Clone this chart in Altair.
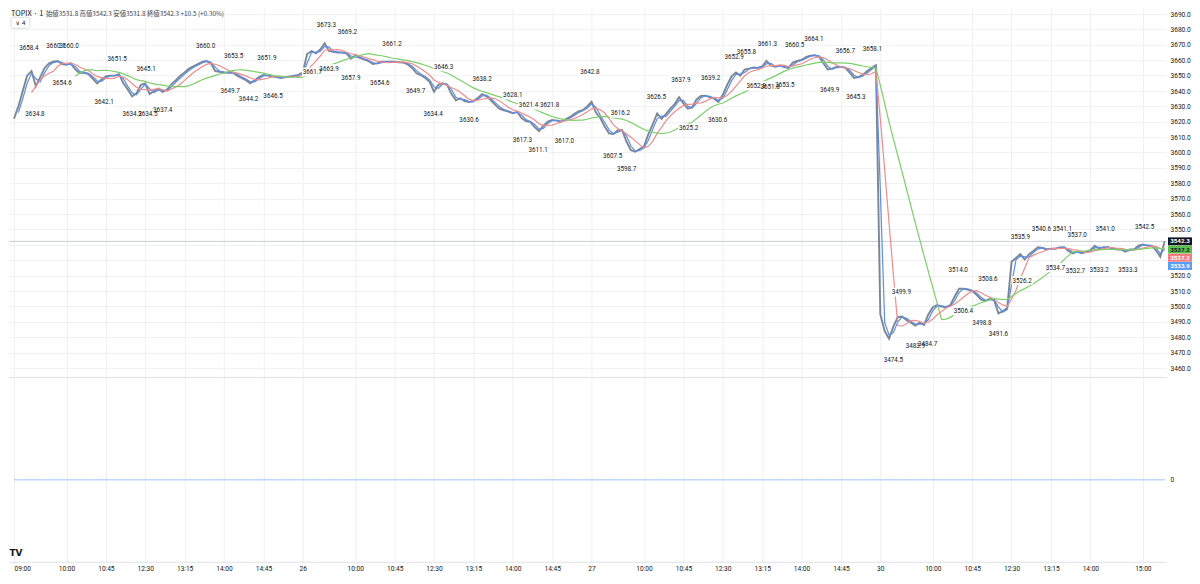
import altair as alt
import pandas as pd

# ---------------- data ----------------
days = ["25", "26", "27", "30"]

# 5-minute closes per trading day (09:00-11:30, 12:30-15:30)
close_25 = [3622, 3630, 3640, 3650, 3653, 3643, 3649, 3655, 3658, 3659,
            3659.5, 3657.5, 3657, 3658, 3654, 3651.5, 3652, 3651, 3648, 3645,
            3647.5, 3649.5, 3650, 3650, 3651, 3645, 3641, 3636.5, 3638.5, 3644,
            3645, 3638, 3640, 3641.5, 3639.5, 3641, 3644.5, 3647, 3650, 3652,
            3654.6, 3656, 3657.5, 3659, 3659.5, 3658, 3653, 3652.5, 3652, 3651.8,
            3652, 3650, 3648.5, 3647, 3645, 3647, 3649, 3650.5, 3650, 3649.5,
            3649, 3648.5, 3649, 3649.5, 3650, 3650.5]
close_26 = [3652, 3664, 3666, 3664.5, 3667, 3671, 3666, 3665.5, 3665, 3665,
            3664.5, 3661, 3663, 3661.5, 3660.5, 3659.5, 3657.5, 3658, 3659, 3659,
            3659, 3659, 3658.7, 3658.5, 3657.3, 3655, 3651.5, 3650.3, 3648.5, 3646,
            3639.5, 3644, 3645, 3644, 3638, 3634, 3635.3, 3633.5, 3632.8, 3633.5,
            3635.5, 3638, 3636.5, 3634, 3631, 3628.4, 3627.5, 3626.6, 3625.5, 3626.5,
            3622.5, 3620.5, 3620, 3616.5, 3614, 3617.5, 3620.2, 3621.2, 3620.8, 3620,
            3621.5, 3623, 3625, 3626.8, 3627.5, 3630]
close_27 = [3633, 3626, 3622.5, 3617, 3612.5, 3612, 3614.5, 3614.5, 3607, 3601.5,
            3600.5, 3602.3, 3604, 3612, 3618.5, 3625.4, 3622, 3625, 3628.5, 3631.5,
            3636, 3632, 3628.5, 3629.5, 3634.5, 3636.8, 3637, 3636, 3635, 3633,
            3637.5, 3644, 3649.5, 3652, 3650, 3654, 3654.6, 3655.3, 3655, 3656,
            3659.5, 3656.6, 3655.7, 3656.6, 3655.5, 3655, 3658.5, 3659.5, 3660.2, 3662,
            3663, 3663.3, 3662.3, 3658, 3654, 3654.6, 3655.7, 3655.7, 3655, 3652,
            3648.5, 3649, 3650.5, 3653, 3655, 3656.8]
close_30 = [3495, 3484, 3479, 3487, 3493, 3493.5, 3491, 3489.5, 3487.5, 3489.5,
            3488, 3495, 3499.5, 3500.9, 3500, 3499.5, 3500.9, 3506.5, 3511.5, 3511.5,
            3511, 3510, 3507.5, 3504.5, 3503.5, 3505, 3504, 3495.5, 3497, 3499,
            3529, 3531.5, 3534, 3530.5, 3534, 3536, 3538.5, 3538, 3537, 3537.5,
            3537.5, 3538.3, 3538.5, 3536, 3534.5, 3535.6, 3534.5, 3535.4, 3536.6, 3539.5,
            3537.5, 3538.5, 3538.5, 3537.6, 3537, 3537, 3535.6, 3537, 3537, 3539.5,
            3540.3, 3539.5, 3539.5, 3536.5, 3532.3, 3542.3]

# high / low annotations: day index, time, value, kind
label_day = [0]*17 + [1]*19 + [2]*20 + [3]*20
label_time = ["09:17", "09:48", "10:03", "09:24", "09:55", "10:58", "10:43", "12:31", "11:15",
              "12:33", "12:50", "13:39", "14:11", "14:07", "14:28", "14:49", "14:56",
              "09:27", "09:51", "09:11", "09:30", "09:55", "10:28", "10:42", "11:09", "12:41",
              "11:29", "13:25", "13:10", "14:00", "14:18", "14:42", "14:11", "14:29", "14:59", "15:28",
              "09:24", "09:33", "09:40", "10:14", "10:42", "10:51", "11:16", "11:24", "12:43", "12:57",
              "13:21", "13:08", "13:24", "13:41", "13:52", "14:14", "14:32", "14:50", "15:02", "15:21",
              "09:15", "09:24", "09:40", "09:54", "10:29", "10:35", "10:56", "11:03", "11:15", "12:42",
              "12:40", "13:04", "13:20", "13:28", "13:43", "13:45", "14:10", "14:17", "14:43", "15:02"]
label_value = [3658.4, 3660.1, 3660.0, 3634.8, 3654.6, 3651.5, 3642.1, 3645.1, 3634.2,
               3634.5, 3637.4, 3660.0, 3653.5, 3649.7, 3644.2, 3651.9, 3646.5,
               3673.3, 3669.2, 3661.7, 3663.9, 3657.9, 3654.6, 3661.2, 3649.7, 3646.3,
               3634.4, 3638.2, 3630.6, 3628.1, 3621.4, 3621.8, 3617.3, 3611.1, 3617.0, 3642.8,
               3607.5, 3616.2, 3598.7, 3626.5, 3637.9, 3625.2, 3639.2, 3630.6, 3652.9, 3655.8,
               3661.3, 3652.8, 3651.8, 3653.5, 3660.5, 3664.1, 3649.9, 3656.7, 3645.3, 3658.1,
               3474.5, 3499.9, 3483.9, 3484.7, 3514.0, 3506.4, 3498.8, 3508.6, 3491.6, 3526.2,
               3535.9, 3540.6, 3534.7, 3541.1, 3532.7, 3537.0, 3533.2, 3541.0, 3533.3, 3542.5]
label_kind = ["H", "H", "H", "L", "L", "H", "L", "H", "L",
              "L", "L", "H", "H", "L", "L", "H", "L",
              "H", "H", "L", "L", "L", "L", "H", "L", "H",
              "L", "H", "L", "H", "H", "H", "L", "L", "L", "H",
              "L", "H", "L", "H", "H", "L", "H", "L", "H", "H",
              "H", "L", "L", "L", "H", "H", "L", "H", "L", "H",
              "L", "H", "L", "L", "H", "L", "L", "H", "L", "L",
              "H", "H", "L", "H", "L", "H", "L", "H", "L", "H"]

# right-edge value tags: last, MA75, MA25, MA5
tag_values = [3542.3, 3537.2, 3537.2, 3533.9]
tag_fill = ["#131722", "#5cbf4e", "#f77c80", "#5b9cf6"]
tag_text = ["#ffffff", "#131722", "#ffffff", "#ffffff"]

# x-axis tick positions (trading minutes from first open)
tick_minutes = [0, 60, 105, 150, 195, 240, 285,
                330, 390, 435, 480, 525, 570, 615,
                660, 720, 765, 810, 855, 900, 945,
                990, 1050, 1095, 1140, 1185, 1230, 1290]
price_ticks = list(range(3460, 3700, 10))
hidden_price_ticks = [3540, 3530]   # covered by the value tags

header_main = "TOPIX · 1"
header_ohlc = "始値3531.8  高値3542.3  安値3531.8  終値3542.3  +10.5 (+0.30%)"

# ---------------- tables ----------------
DAY_MIN = 330


def session_minute(hhmm):
    h, mm = map(int, hhmm.split(":"))
    tot = h * 60 + mm
    return tot - 540 if tot < 750 else tot - 750 + 150


def clock(t):
    tot = 540 + t if t < 150 else 750 + (t - 150)
    return f"{tot // 60:02d}:{tot % 60:02d}"


rows = []
for d, arr in enumerate([close_25, close_26, close_27, close_30]):
    for k, v in enumerate(arr):
        rows.append({"m": d * DAY_MIN + 5 * k, "close": v})
price = pd.DataFrame(rows)

labels = pd.DataFrame({
    "m": [d * DAY_MIN + session_minute(t) for d, t in zip(label_day, label_time)],
    "v": label_value,
    "kind": label_kind,
})

tick_text = {}
for v in tick_minutes:
    d, t = divmod(v, DAY_MIN)
    tick_text[v] = ("09:00" if d == 0 else days[d]) if t == 0 else clock(t)
label_expr = "''"
for v in reversed(tick_minutes):
    label_expr = f"datum.value == {v} ? '{tick_text[v]}' : ({label_expr})"

price_label_expr = " || ".join(f"datum.value == {v}" for v in hidden_price_ticks) + " ? '' : datum.label"

# ---------------- geometry / style ----------------
W = 1158
H_TOP = 369
H_BOT = 184
X_DOMAIN = [-5.7, 1316.5]
Y_DOMAIN = [3454.2, 3693.8]
GRID = "#eef0f3"
TXT = "#131722"
FONT = "Roboto"
FS = 6.6
LFS = 6.3

x_axis_top = alt.Axis(values=tick_minutes, grid=True, gridColor=GRID, labels=False,
                      ticks=False, domain=True, domainColor="#dfe2e8", title=None)
x_axis_bot = alt.Axis(values=tick_minutes, grid=True, gridColor=GRID, labels=True,
                      labelExpr=label_expr, labelFontSize=FS, labelColor=TXT, labelFont=FONT,
                      labelPadding=4, labelFlush=10, labelOverlap=False,
                      ticks=False, domain=True, domainColor="#dfe2e8", title=None)
y_axis_top = alt.Axis(orient="right", values=price_ticks, format=".1f", labelExpr=price_label_expr,
                      grid=True, gridColor=GRID, ticks=False, domain=False, labelFontSize=FS,
                      labelColor=TXT, labelFont=FONT, labelPadding=4, title=None)


def X(field="m", axis=x_axis_top):
    return alt.X(f"{field}:Q", scale=alt.Scale(domain=X_DOMAIN, nice=False, zero=False), axis=axis)


def Y(field):
    return alt.Y(f"{field}:Q", scale=alt.Scale(domain=Y_DOMAIN, nice=False, zero=False), axis=y_axis_top)


layers = []

# last price line
layers.append(alt.Chart(pd.DataFrame({"p": [tag_values[0]]}))
              .mark_rule(color="#c9ccd3", strokeWidth=1).encode(y=Y("p")))

# price (candle) line
layers.append(alt.Chart(price).mark_line(color="#7d8691", strokeWidth=1.9)
              .encode(x=X(), y=Y("close")))

# moving averages (5, 25, 75 one-minute bars -> 1, 5, 15 five-minute samples)
for n, color in [(2, "#5b8def"), (5, "#f28b8b"), (15, "#7ccf6a")]:
    layers.append(
        alt.Chart(price)
        .transform_window(ma="mean(close)", cnt="count()", frame=[-(n - 1), 0],
                          sort=[alt.SortField("m")])
        .transform_filter(alt.datum.cnt >= n)
        .mark_line(color=color, strokeWidth=1.2)
        .encode(x=X(), y=Y("ma"))
    )

# high/low annotations on white boxes
for kind, dy in [("H", -14.5), ("L", 14.5)]:
    base = alt.Chart(labels).transform_filter(alt.datum.kind == kind)
    layers.append(base.mark_rect(color="white", xOffset=-10.5, x2Offset=10.5,
                                 yOffset=dy - 4.5, y2Offset=dy + 4.5)
                  .encode(x=X(), x2=alt.X2("m"), y=Y("v"), y2=alt.Y2("v")))
    layers.append(base.mark_text(fontSize=LFS, font=FONT, dy=dy, color=TXT)
                  .encode(x=X(), y=Y("v"), text=alt.Text("v:Q", format=".1f")))

# right-edge value tags, stacked below the last price
px_per_pt = H_TOP / (Y_DOMAIN[1] - Y_DOMAIN[0])
for i, (v, fill, tc) in enumerate(zip(tag_values, tag_fill, tag_text)):
    off = i * 8.2 - (tag_values[0] - v) * px_per_pt
    df = pd.DataFrame({"v": [v]})
    layers.append(alt.Chart(df).mark_rect(color=fill, yOffset=off - 4, y2Offset=off + 4)
                  .encode(x=alt.value(W + 2), x2=alt.value(W + 26), y=Y("v"), y2=alt.Y2("v")))
    layers.append(alt.Chart(df).mark_text(color=tc, fontSize=6.2, font=FONT, fontWeight="bold",
                                          yOffset=off, align="center", baseline="middle")
                  .encode(x=alt.value(W + 14), y=Y("v"), text=alt.Text("v:Q", format=".1f")))

# header
layers.append(alt.Chart(pd.DataFrame({"t": [header_main]}))
              .mark_text(align="left", baseline="middle", fontSize=7.4, font="Noto Sans CJK JP", color=TXT)
              .encode(x=alt.value(2), y=alt.value(5.5), text="t:N"))
layers.append(alt.Chart(pd.DataFrame({"t": [header_ohlc]}))
              .mark_text(align="left", baseline="middle", fontSize=6.4, font="Noto Sans CJK JP", color="#434651")
              .encode(x=alt.value(37), y=alt.value(5.5), text="t:N"))
layers.append(alt.Chart(pd.DataFrame({"t": ["∨ 4"]}))
              .mark_rect(fill="white", stroke="#d1d4dc", strokeWidth=0.8, cornerRadius=2)
              .encode(x=alt.value(2), x2=alt.value(21), y=alt.value(9), y2=alt.value(20)))
layers.append(alt.Chart(pd.DataFrame({"t": ["∨ 4"]}))
              .mark_text(align="center", baseline="middle", fontSize=6, font="DejaVu Sans", color=TXT)
              .encode(x=alt.value(11.5), y=alt.value(14.5), text="t:N"))

top = alt.layer(*layers).properties(width=W, height=H_TOP)

# ---------------- lower pane ----------------
yb = alt.Y("z:Q", scale=alt.Scale(domain=[-0.82, 1.02], nice=False, zero=False),
           axis=alt.Axis(orient="right", values=[0], format="d", grid=False, ticks=False,
                         domain=False, labelFontSize=FS, labelColor=TXT, labelFont=FONT,
                         labelPadding=4, title=None))
zero_line = (alt.Chart(price).transform_calculate(z="0")
             .mark_line(color="#9cc3f5", strokeWidth=1)
             .encode(x=X(axis=x_axis_bot), y=yb))
logo = (alt.Chart(pd.DataFrame({"t": ["TV"]}))
        .mark_text(align="center", baseline="middle", fontSize=9, font="DejaVu Sans",
                   fontWeight="bold", color="#131722")
        .encode(x=alt.value(7), y=alt.value(175), text="t:N"))
bottom = alt.layer(zero_line, logo).properties(width=W, height=H_BOT)

chart = (alt.vconcat(top, bottom, spacing=1)
         .resolve_scale(x="independent", y="independent")
         .properties(padding=0, background="white")
         .configure_view(stroke=None))

chart.save("out.html", embed_options={"renderer": "svg", "actions": False})
